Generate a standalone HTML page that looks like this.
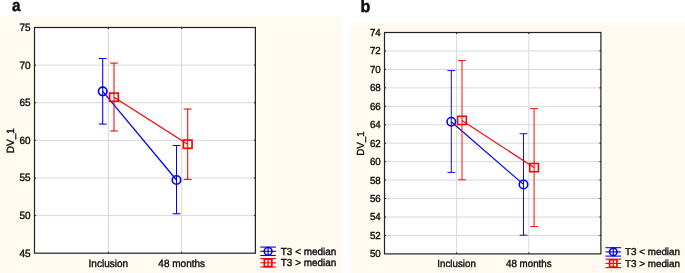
<!DOCTYPE html>
<html><head><meta charset="utf-8">
<style>
html,body{margin:0;padding:0;background:#fff;}
body{width:685px;height:273px;overflow:hidden;position:relative;font-family:"Liberation Sans",sans-serif;}
svg{position:absolute;left:0;top:0;display:block;will-change:transform;}
svg text{font-family:"Liberation Sans",sans-serif;fill:#0a0a0a;stroke:#0a0a0a;stroke-width:0.36;text-rendering:geometricPrecision;}
svg text.big{stroke-width:0.45;}
</style></head>
<body>
<svg width="685" height="273" viewBox="0 0 685 273">
<rect x="0" y="16.95" width="341.85" height="256.05" fill="#fffbf0"/>
<rect x="350.55" y="22.45" width="334.45" height="250.55" fill="#fffbf0"/>
<text class="big" transform="translate(11.9,11) scale(0.89,1)" font-size="17" font-weight="bold">a</text>
<text class="big" transform="translate(360.5,12) scale(0.94,1)" font-size="17" font-weight="bold">b</text>
<rect x="34.5" y="27.5" width="220.9" height="225.7" fill="#fff"/>
<text transform="translate(30.60,257.00) scale(0.952,1)" font-size="10.5" text-anchor="end">45</text>
<line x1="34.5" y1="215.58" x2="255.4" y2="215.58" stroke="#d9d9d9" stroke-width="1"/>
<text transform="translate(30.60,219.00) scale(0.952,1)" font-size="10.5" text-anchor="end">50</text>
<line x1="34.5" y1="177.97" x2="255.4" y2="177.97" stroke="#d9d9d9" stroke-width="1"/>
<text transform="translate(30.60,181.00) scale(0.952,1)" font-size="10.5" text-anchor="end">55</text>
<line x1="34.5" y1="140.35" x2="255.4" y2="140.35" stroke="#d9d9d9" stroke-width="1"/>
<text transform="translate(30.60,144.00) scale(0.952,1)" font-size="10.5" text-anchor="end">60</text>
<line x1="34.5" y1="102.73" x2="255.4" y2="102.73" stroke="#d9d9d9" stroke-width="1"/>
<text transform="translate(30.60,106.00) scale(0.952,1)" font-size="10.5" text-anchor="end">65</text>
<line x1="34.5" y1="65.12" x2="255.4" y2="65.12" stroke="#d9d9d9" stroke-width="1"/>
<text transform="translate(30.60,69.00) scale(0.952,1)" font-size="10.5" text-anchor="end">70</text>
<text transform="translate(30.60,31.00) scale(0.952,1)" font-size="10.5" text-anchor="end">75</text>
<line x1="108.3" y1="27.5" x2="108.3" y2="253.2" stroke="#d9d9d9" stroke-width="1"/>
<line x1="181.7" y1="27.5" x2="181.7" y2="253.2" stroke="#d9d9d9" stroke-width="1"/>
<line x1="102.7" y1="91.35" x2="176.5" y2="180.0" stroke="#0000f2" stroke-width="1.25"/>
<line x1="102.7" y1="58.5" x2="102.7" y2="124.1" stroke="#0000f2" stroke-width="1.05"/>
<line x1="98.8" y1="58.5" x2="106.60000000000001" y2="58.5" stroke="#0000f2" stroke-width="1.05"/>
<line x1="98.8" y1="124.1" x2="106.60000000000001" y2="124.1" stroke="#0000f2" stroke-width="1.05"/>
<circle cx="102.7" cy="91.35" r="4.25" fill="none" stroke="#0000f2" stroke-width="1.65"/>
<line x1="176.5" y1="145.5" x2="176.5" y2="213.75" stroke="#0000f2" stroke-width="1.05"/>
<line x1="172.6" y1="145.5" x2="180.4" y2="145.5" stroke="#0000f2" stroke-width="1.05"/>
<line x1="172.6" y1="213.75" x2="180.4" y2="213.75" stroke="#0000f2" stroke-width="1.05"/>
<circle cx="176.5" cy="180.0" r="4.25" fill="none" stroke="#0000f2" stroke-width="1.65"/>
<line x1="114" y1="97.2" x2="187.7" y2="144.2" stroke="#f40404" stroke-width="1.25"/>
<line x1="114" y1="63.1" x2="114" y2="131" stroke="#f40404" stroke-width="1.05"/>
<line x1="110.1" y1="63.1" x2="117.9" y2="63.1" stroke="#f40404" stroke-width="1.05"/>
<line x1="110.1" y1="131" x2="117.9" y2="131" stroke="#f40404" stroke-width="1.05"/>
<rect x="109.65" y="93.10000000000001" width="8.7" height="8.2" fill="none" stroke="#f40404" stroke-width="1.65"/>
<line x1="187.7" y1="109" x2="187.7" y2="179.4" stroke="#f40404" stroke-width="1.05"/>
<line x1="183.79999999999998" y1="109" x2="191.6" y2="109" stroke="#f40404" stroke-width="1.05"/>
<line x1="183.79999999999998" y1="179.4" x2="191.6" y2="179.4" stroke="#f40404" stroke-width="1.05"/>
<rect x="183.35" y="140.1" width="8.7" height="8.2" fill="none" stroke="#f40404" stroke-width="1.65"/>
<rect x="34.5" y="27.5" width="220.9" height="225.7" fill="none" stroke="#222" stroke-width="1.2"/>
<line x1="34.5" y1="215.58" x2="36.0" y2="215.58" stroke="#222" stroke-width="1"/>
<line x1="253.9" y1="215.58" x2="255.4" y2="215.58" stroke="#222" stroke-width="1"/>
<line x1="34.5" y1="177.97" x2="36.0" y2="177.97" stroke="#222" stroke-width="1"/>
<line x1="253.9" y1="177.97" x2="255.4" y2="177.97" stroke="#222" stroke-width="1"/>
<line x1="34.5" y1="140.35" x2="36.0" y2="140.35" stroke="#222" stroke-width="1"/>
<line x1="253.9" y1="140.35" x2="255.4" y2="140.35" stroke="#222" stroke-width="1"/>
<line x1="34.5" y1="102.73" x2="36.0" y2="102.73" stroke="#222" stroke-width="1"/>
<line x1="253.9" y1="102.73" x2="255.4" y2="102.73" stroke="#222" stroke-width="1"/>
<line x1="34.5" y1="65.12" x2="36.0" y2="65.12" stroke="#222" stroke-width="1"/>
<line x1="253.9" y1="65.12" x2="255.4" y2="65.12" stroke="#222" stroke-width="1"/>
<line x1="108.3" y1="27.5" x2="108.3" y2="29.0" stroke="#222" stroke-width="1"/>
<line x1="108.3" y1="251.7" x2="108.3" y2="253.2" stroke="#222" stroke-width="1"/>
<line x1="181.7" y1="27.5" x2="181.7" y2="29.0" stroke="#222" stroke-width="1"/>
<line x1="181.7" y1="251.7" x2="181.7" y2="253.2" stroke="#222" stroke-width="1"/>
<text transform="translate(108.30,267.00) scale(0.952,1)" font-size="10.5" text-anchor="middle">Inclusion</text>
<text transform="translate(181.70,267.00) scale(0.952,1)" font-size="10.5" text-anchor="middle">48 months</text>
<text transform="translate(13.60,140.75) rotate(-90) scale(0.952,1)" font-size="10.5" text-anchor="middle">DV_1</text>
<line x1="260.3" y1="247.1" x2="275.90000000000003" y2="247.1" stroke="#0000f2" stroke-width="1.1"/>
<line x1="260.3" y1="251.29999999999998" x2="275.90000000000003" y2="251.29999999999998" stroke="#0000f2" stroke-width="1.1"/>
<line x1="260.3" y1="255.5" x2="275.90000000000003" y2="255.5" stroke="#0000f2" stroke-width="1.1"/>
<line x1="268.1" y1="247.1" x2="268.1" y2="255.5" stroke="#0000f2" stroke-width="1.2"/>
<circle cx="268.1" cy="251.29999999999998" r="3.9" fill="none" stroke="#0000f2" stroke-width="1.5"/>
<line x1="260.3" y1="258.6" x2="275.90000000000003" y2="258.6" stroke="#f40404" stroke-width="1.1"/>
<line x1="260.3" y1="262.8" x2="275.90000000000003" y2="262.8" stroke="#f40404" stroke-width="1.1"/>
<line x1="260.3" y1="267.0" x2="275.90000000000003" y2="267.0" stroke="#f40404" stroke-width="1.1"/>
<line x1="268.1" y1="258.6" x2="268.1" y2="267.0" stroke="#f40404" stroke-width="1.2"/>
<rect x="264.35" y="259.05" width="7.5" height="7.5" fill="none" stroke="#f40404" stroke-width="1.7"/>
<text transform="translate(280.80,255.00) scale(0.975,1)" font-size="10.2" text-anchor="start">T3 &lt; median</text>
<text transform="translate(280.80,266.00) scale(0.975,1)" font-size="10.2" text-anchor="start">T3 &gt; median</text>
<rect x="384.5" y="32.5" width="216.39999999999998" height="221.4" fill="#fff"/>
<text transform="translate(380.80,257.00) scale(0.951,1)" font-size="10.25" text-anchor="end">50</text>
<line x1="384.5" y1="235.45" x2="600.9" y2="235.45" stroke="#d9d9d9" stroke-width="1"/>
<text transform="translate(380.80,239.00) scale(0.951,1)" font-size="10.25" text-anchor="end">52</text>
<line x1="384.5" y1="217.00" x2="600.9" y2="217.00" stroke="#d9d9d9" stroke-width="1"/>
<text transform="translate(380.80,220.00) scale(0.951,1)" font-size="10.25" text-anchor="end">54</text>
<line x1="384.5" y1="198.55" x2="600.9" y2="198.55" stroke="#d9d9d9" stroke-width="1"/>
<text transform="translate(380.80,202.00) scale(0.951,1)" font-size="10.25" text-anchor="end">56</text>
<line x1="384.5" y1="180.10" x2="600.9" y2="180.10" stroke="#d9d9d9" stroke-width="1"/>
<text transform="translate(380.80,184.00) scale(0.951,1)" font-size="10.25" text-anchor="end">58</text>
<line x1="384.5" y1="161.65" x2="600.9" y2="161.65" stroke="#d9d9d9" stroke-width="1"/>
<text transform="translate(380.80,165.00) scale(0.951,1)" font-size="10.25" text-anchor="end">60</text>
<line x1="384.5" y1="143.20" x2="600.9" y2="143.20" stroke="#d9d9d9" stroke-width="1"/>
<text transform="translate(380.80,147.00) scale(0.951,1)" font-size="10.25" text-anchor="end">62</text>
<line x1="384.5" y1="124.75" x2="600.9" y2="124.75" stroke="#d9d9d9" stroke-width="1"/>
<text transform="translate(380.80,128.00) scale(0.951,1)" font-size="10.25" text-anchor="end">64</text>
<line x1="384.5" y1="106.30" x2="600.9" y2="106.30" stroke="#d9d9d9" stroke-width="1"/>
<text transform="translate(380.80,110.00) scale(0.951,1)" font-size="10.25" text-anchor="end">66</text>
<line x1="384.5" y1="87.85" x2="600.9" y2="87.85" stroke="#d9d9d9" stroke-width="1"/>
<text transform="translate(380.80,91.00) scale(0.951,1)" font-size="10.25" text-anchor="end">68</text>
<line x1="384.5" y1="69.40" x2="600.9" y2="69.40" stroke="#d9d9d9" stroke-width="1"/>
<text transform="translate(380.80,73.00) scale(0.951,1)" font-size="10.25" text-anchor="end">70</text>
<line x1="384.5" y1="50.95" x2="600.9" y2="50.95" stroke="#d9d9d9" stroke-width="1"/>
<text transform="translate(380.80,54.00) scale(0.951,1)" font-size="10.25" text-anchor="end">72</text>
<text transform="translate(380.80,36.00) scale(0.951,1)" font-size="10.25" text-anchor="end">74</text>
<line x1="456.6" y1="32.5" x2="456.6" y2="253.9" stroke="#d9d9d9" stroke-width="1"/>
<line x1="528.8" y1="32.5" x2="528.8" y2="253.9" stroke="#d9d9d9" stroke-width="1"/>
<line x1="451.3" y1="121.7" x2="523.5" y2="184.4" stroke="#0000f2" stroke-width="1.15"/>
<line x1="451.3" y1="70.6" x2="451.3" y2="172.4" stroke="#0000f2" stroke-width="0.95"/>
<line x1="447.40000000000003" y1="70.6" x2="455.2" y2="70.6" stroke="#0000f2" stroke-width="0.95"/>
<line x1="447.40000000000003" y1="172.4" x2="455.2" y2="172.4" stroke="#0000f2" stroke-width="0.95"/>
<circle cx="451.3" cy="121.7" r="4.25" fill="none" stroke="#0000f2" stroke-width="1.55"/>
<line x1="523.5" y1="133.7" x2="523.5" y2="235.2" stroke="#0000f2" stroke-width="0.95"/>
<line x1="519.6" y1="133.7" x2="527.4" y2="133.7" stroke="#0000f2" stroke-width="0.95"/>
<line x1="519.6" y1="235.2" x2="527.4" y2="235.2" stroke="#0000f2" stroke-width="0.95"/>
<circle cx="523.5" cy="184.4" r="4.25" fill="none" stroke="#0000f2" stroke-width="1.55"/>
<line x1="462" y1="120.4" x2="534.1" y2="167.6" stroke="#f40404" stroke-width="1.15"/>
<line x1="462" y1="60.6" x2="462" y2="179.8" stroke="#f40404" stroke-width="0.95"/>
<line x1="458.1" y1="60.6" x2="465.9" y2="60.6" stroke="#f40404" stroke-width="0.95"/>
<line x1="458.1" y1="179.8" x2="465.9" y2="179.8" stroke="#f40404" stroke-width="0.95"/>
<rect x="457.65" y="116.30000000000001" width="8.7" height="8.2" fill="none" stroke="#f40404" stroke-width="1.55"/>
<line x1="534.1" y1="108.6" x2="534.1" y2="226.6" stroke="#f40404" stroke-width="0.95"/>
<line x1="530.2" y1="108.6" x2="538.0" y2="108.6" stroke="#f40404" stroke-width="0.95"/>
<line x1="530.2" y1="226.6" x2="538.0" y2="226.6" stroke="#f40404" stroke-width="0.95"/>
<rect x="529.75" y="163.5" width="8.7" height="8.2" fill="none" stroke="#f40404" stroke-width="1.55"/>
<rect x="384.5" y="32.5" width="216.39999999999998" height="221.4" fill="none" stroke="#222" stroke-width="1.2"/>
<line x1="384.5" y1="235.45" x2="386.0" y2="235.45" stroke="#222" stroke-width="1"/>
<line x1="599.4" y1="235.45" x2="600.9" y2="235.45" stroke="#222" stroke-width="1"/>
<line x1="384.5" y1="217.00" x2="386.0" y2="217.00" stroke="#222" stroke-width="1"/>
<line x1="599.4" y1="217.00" x2="600.9" y2="217.00" stroke="#222" stroke-width="1"/>
<line x1="384.5" y1="198.55" x2="386.0" y2="198.55" stroke="#222" stroke-width="1"/>
<line x1="599.4" y1="198.55" x2="600.9" y2="198.55" stroke="#222" stroke-width="1"/>
<line x1="384.5" y1="180.10" x2="386.0" y2="180.10" stroke="#222" stroke-width="1"/>
<line x1="599.4" y1="180.10" x2="600.9" y2="180.10" stroke="#222" stroke-width="1"/>
<line x1="384.5" y1="161.65" x2="386.0" y2="161.65" stroke="#222" stroke-width="1"/>
<line x1="599.4" y1="161.65" x2="600.9" y2="161.65" stroke="#222" stroke-width="1"/>
<line x1="384.5" y1="143.20" x2="386.0" y2="143.20" stroke="#222" stroke-width="1"/>
<line x1="599.4" y1="143.20" x2="600.9" y2="143.20" stroke="#222" stroke-width="1"/>
<line x1="384.5" y1="124.75" x2="386.0" y2="124.75" stroke="#222" stroke-width="1"/>
<line x1="599.4" y1="124.75" x2="600.9" y2="124.75" stroke="#222" stroke-width="1"/>
<line x1="384.5" y1="106.30" x2="386.0" y2="106.30" stroke="#222" stroke-width="1"/>
<line x1="599.4" y1="106.30" x2="600.9" y2="106.30" stroke="#222" stroke-width="1"/>
<line x1="384.5" y1="87.85" x2="386.0" y2="87.85" stroke="#222" stroke-width="1"/>
<line x1="599.4" y1="87.85" x2="600.9" y2="87.85" stroke="#222" stroke-width="1"/>
<line x1="384.5" y1="69.40" x2="386.0" y2="69.40" stroke="#222" stroke-width="1"/>
<line x1="599.4" y1="69.40" x2="600.9" y2="69.40" stroke="#222" stroke-width="1"/>
<line x1="384.5" y1="50.95" x2="386.0" y2="50.95" stroke="#222" stroke-width="1"/>
<line x1="599.4" y1="50.95" x2="600.9" y2="50.95" stroke="#222" stroke-width="1"/>
<line x1="456.6" y1="32.5" x2="456.6" y2="34.0" stroke="#222" stroke-width="1"/>
<line x1="456.6" y1="252.4" x2="456.6" y2="253.9" stroke="#222" stroke-width="1"/>
<line x1="528.8" y1="32.5" x2="528.8" y2="34.0" stroke="#222" stroke-width="1"/>
<line x1="528.8" y1="252.4" x2="528.8" y2="253.9" stroke="#222" stroke-width="1"/>
<text transform="translate(456.60,267.00) scale(0.951,1)" font-size="10.25" text-anchor="middle">Inclusion</text>
<text transform="translate(528.80,267.00) scale(0.951,1)" font-size="10.25" text-anchor="middle">48 months</text>
<text transform="translate(363.80,143.60) rotate(-90) scale(0.951,1)" font-size="10.25" text-anchor="middle">DV_1</text>
<line x1="605.5" y1="247.7" x2="621.1" y2="247.7" stroke="#0000f2" stroke-width="1.1"/>
<line x1="605.5" y1="251.89999999999998" x2="621.1" y2="251.89999999999998" stroke="#0000f2" stroke-width="1.1"/>
<line x1="605.5" y1="256.09999999999997" x2="621.1" y2="256.09999999999997" stroke="#0000f2" stroke-width="1.1"/>
<line x1="613.3" y1="247.7" x2="613.3" y2="256.09999999999997" stroke="#0000f2" stroke-width="1.2"/>
<circle cx="613.3" cy="251.89999999999998" r="3.7" fill="none" stroke="#0000f2" stroke-width="1.7"/>
<line x1="605.5" y1="259.2" x2="621.1" y2="259.2" stroke="#f40404" stroke-width="1.1"/>
<line x1="605.5" y1="263.4" x2="621.1" y2="263.4" stroke="#f40404" stroke-width="1.1"/>
<line x1="605.5" y1="267.59999999999997" x2="621.1" y2="267.59999999999997" stroke="#f40404" stroke-width="1.1"/>
<line x1="613.3" y1="259.2" x2="613.3" y2="267.59999999999997" stroke="#f40404" stroke-width="1.2"/>
<rect x="609.65" y="259.75" width="7.3" height="7.3" fill="none" stroke="#f40404" stroke-width="1.7"/>
<text transform="translate(624.90,255.00) scale(0.987,1)" font-size="10.0" text-anchor="start">T3 &lt; median</text>
<text transform="translate(624.90,267.00) scale(0.987,1)" font-size="10.0" text-anchor="start">T3 &gt; median</text>
</svg>
</body></html>
